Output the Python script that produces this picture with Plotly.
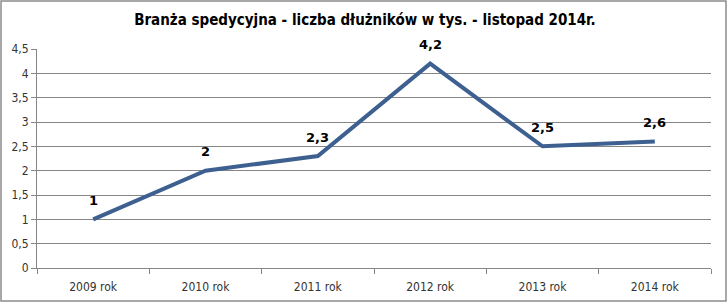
import plotly.graph_objects as go

categories = ["2009 rok", "2010 rok", "2011 rok", "2012 rok", "2013 rok", "2014 rok"]
values = [1, 2, 2.3, 4.2, 2.5, 2.6]
labels = ["1", "2", "2,3", "4,2", "2,5", "2,6"]
y_ticks = [0, 0.5, 1, 1.5, 2, 2.5, 3, 3.5, 4, 4.5]
y_tick_text = ["0", "0,5", "1", "1,5", "2", "2,5", "3", "3,5", "4", "4,5"]

fig = go.Figure()
fig.add_trace(go.Scatter(
    x=categories, y=values, mode="lines",
    line=dict(color="#3D6090", width=4),
    cliponaxis=False, showlegend=False,
))
for c, v, t in zip(categories, values, labels):
    fig.add_annotation(x=c, y=v, text="<b>" + t + "</b>", showarrow=False,
                       yanchor="middle", xanchor="center", yshift=19,
                       font=dict(family="DejaVu Sans", size=13, color="#000000"))

fig.update_layout(
    width=727, height=303,
    margin=dict(l=37, r=16, t=49, b=35),
    paper_bgcolor="white", plot_bgcolor="white",
    title=dict(text="<b>Branża spedycyjna - liczba dłużników w tys. - listopad 2014r.</b>",
               x=0.502, xanchor="center", y=0.935, yanchor="middle",
               font=dict(family="DejaVu Sans Condensed", size=15, color="#000000")),
    xaxis=dict(type="category", tickson="boundaries", ticks="outside", ticklen=5,
               tickcolor="#868686", showline=True, linecolor="#868686", linewidth=1,
               showgrid=False, ticklabelstandoff=8, automargin=False,
               tickfont=dict(family="DejaVu Sans Condensed", size=12, color="#333333"),
               range=[-0.5, 5.5]),
    yaxis=dict(range=[0, 4.5], tickvals=y_ticks, ticktext=y_tick_text, ticks="outside",
               ticklen=5, tickcolor="#868686", showline=True, linecolor="#868686",
               showgrid=True, gridcolor="#868686", gridwidth=1, zeroline=False,
               automargin=False,
               tickfont=dict(family="DejaVu Sans Condensed", size=12, color="#333333")),
)
fig.add_shape(type="rect", xref="paper", yref="paper",
              x0=-36/674, x1=1+15/674, y0=-33/219, y1=1+48/219,
              line=dict(color="#8C8C8C", width=1.5))

fig.write_html("out.html")
